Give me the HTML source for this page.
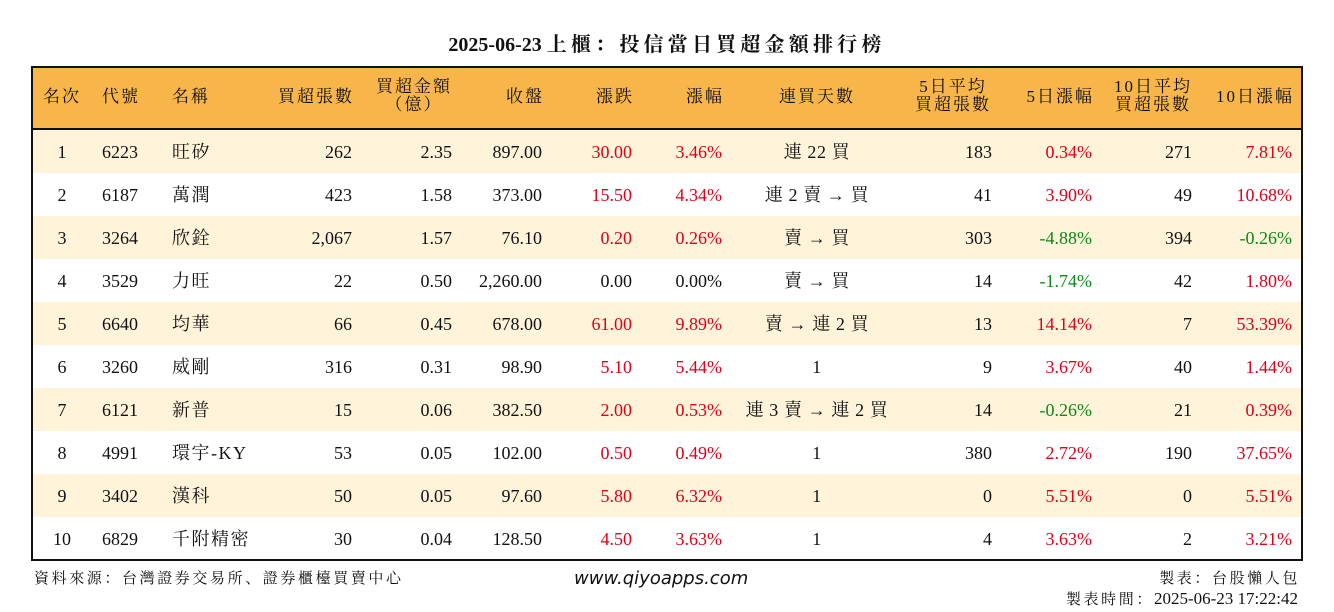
<!DOCTYPE html>
<html><head><meta charset="utf-8">
<style>
html,body{margin:0;padding:0;background:#fff;}
body{width:1334px;height:612px;position:relative;overflow:hidden;font-family:"Liberation Serif","Noto Serif CJK SC",serif;color:#111;}
.abs{position:absolute;white-space:nowrap;}
#title{left:0;width:1334px;top:28px;text-align:center;font-size:20px;font-weight:bold;}
#title span{letter-spacing:4.2px;}
#box{left:31px;top:66px;width:1268px;height:491px;border:2px solid #111;}
#head{left:33px;top:68px;width:1268px;height:60px;background:#F8B54A;border-bottom:2px solid #111;}
.row{position:absolute;left:33px;width:1268px;height:43px;}
.c{position:absolute;font-size:18px;line-height:18px;}
.h{position:absolute;font-size:17px;line-height:18px;text-align:center;letter-spacing:2px;}
.cjk{letter-spacing:1.5px;}
.stk{letter-spacing:0.6px;}
.red{color:#e0001a}.green{color:#0a8a1a}
.foot{font-size:15px;font-family:"Noto Serif CJK SC","Liberation Serif",serif;}
.sp{letter-spacing:2.6px;}
</style></head><body>
<div id="title" class="abs">2025-06-23 <span>上櫃：投信當日買超金額排行榜</span></div>
<div id="head" class="abs"></div>
<div id="rows"></div>
<div id="box" class="abs"></div>
<div class="abs foot sp" style="left:34px;top:567px;">資料來源：台灣證券交易所、證券櫃檯買賣中心</div>
<div class="abs" style="left:574px;top:568px;font-family:'DejaVu Sans',sans-serif;font-style:italic;font-size:18px;">www.qiyoapps.com</div>
<div class="abs foot sp" style="right:34px;top:567px;">製表：台股懶人包</div>
<div class="abs foot" style="right:36px;top:588px;"><span class="sp">製表時間：</span><span style="font-family:'Liberation Serif',serif;font-size:17px;">2025-06-23 17:22:42</span></div>
<script>
const headers=["名次","代號","名稱","買超張數","買超金額\n（億）","收盤","漲跌","漲幅","連買天數","5日平均\n買超張數","5日漲幅","10日平均\n買超張數","10日漲幅"];
const ranks=["1","2","3","4","5","6","7","8","9","10"];
const codes=["6223","6187","3264","3529","6640","3260","6121","4991","3402","6829"];
const names=["旺矽","萬潤","欣銓","力旺","均華","威剛","新普","環宇-KY","漢科","千附精密"];
const shares=["262","423","2,067","22","66","316","15","53","50","30"];
const amounts=["2.35","1.58","1.57","0.50","0.45","0.31","0.06","0.05","0.05","0.04"];
const closes=["897.00","373.00","76.10","2,260.00","678.00","98.90","382.50","102.00","97.60","128.50"];
const changes=["30.00","15.50","0.20","0.00","61.00","5.10","2.00","0.50","5.80","4.50"];
const pcts=["3.46%","4.34%","0.26%","0.00%","9.89%","5.44%","0.53%","0.49%","6.32%","3.63%"];
const streaks=["連 22 買","連 2 賣 → 買","賣 → 買","賣 → 買","賣 → 連 2 買","1","連 3 賣 → 連 2 買","1","1","1"];
const avg5=["183","41","303","14","13","9","14","380","0","4"];
const chg5=["0.34%","3.90%","-4.88%","-1.74%","14.14%","3.67%","-0.26%","2.72%","5.51%","3.63%"];
const avg10=["271","49","394","42","7","40","21","190","0","2"];
const chg10=["7.81%","10.68%","-0.26%","1.80%","53.39%","1.44%","0.39%","37.65%","5.51%","3.21%"];
const cols=[["c",62],["l",102],["l",172],["r",352],["r",452],["r",542],["r",632],["r",722],["c",817],["r",992],["r",1092],["r",1192],["r",1292]];
const hcols=[["c",62],["l",102],["l",172],["r",354],["c",414],["r",544],["r",634],["r",724],["c",817],["c",953],["r",1094],["c",1153],["r",1294]];
function place(el,a,x,w){
  if(a==="l"){el.style.left=(x-33)+"px";}
  else if(a==="r"){el.style.right=(1301-x)+"px";el.style.textAlign="right";}
  else{el.style.left=(x-33-w/2)+"px";el.style.width=w+"px";el.style.textAlign="center";}
}
const head=document.getElementById('head');
headers.forEach((t,i)=>{
  const d=document.createElement('div');d.className='h';
  
  
  const two=t.includes("\n");
  d.innerHTML=t.replace("\n","<br>");
  d.style.top=two?"10px":"20px";
  place(d,hcols[i][0],hcols[i][1],120);
  head.appendChild(d);
});
function cls(v){if(v.startsWith("-"))return"green";if(parseFloat(v.replace(/,/g,""))>0)return"red";return"";}
const rowsEl=document.getElementById('rows');
ranks.forEach((r,k)=>{
  const row=document.createElement('div');row.className='row';
  
  
  row.style.top=(130+k*43)+"px";
  row.style.background=k%2===0?"#FFF3D9":"#fff";
  const vals=[r,codes[k],names[k],shares[k],amounts[k],closes[k],changes[k],pcts[k],streaks[k],avg5[k],chg5[k],avg10[k],chg10[k]];
  vals.forEach((v,i)=>{
    const d=document.createElement('div');d.className='c';
    
    
    d.textContent=v;d.style.top="13px";
    if(i===2)d.className+=' cjk';
    if(i===8)d.className+=' stk';
    if(i===6||i===7)d.className+=' '+cls(changes[k]);
    if(i===10||i===12)d.className+=' '+cls(v);
    place(d,cols[i][0],cols[i][1],200);
    row.appendChild(d);
  });
  rowsEl.appendChild(row);
});
</script>
</body></html>
